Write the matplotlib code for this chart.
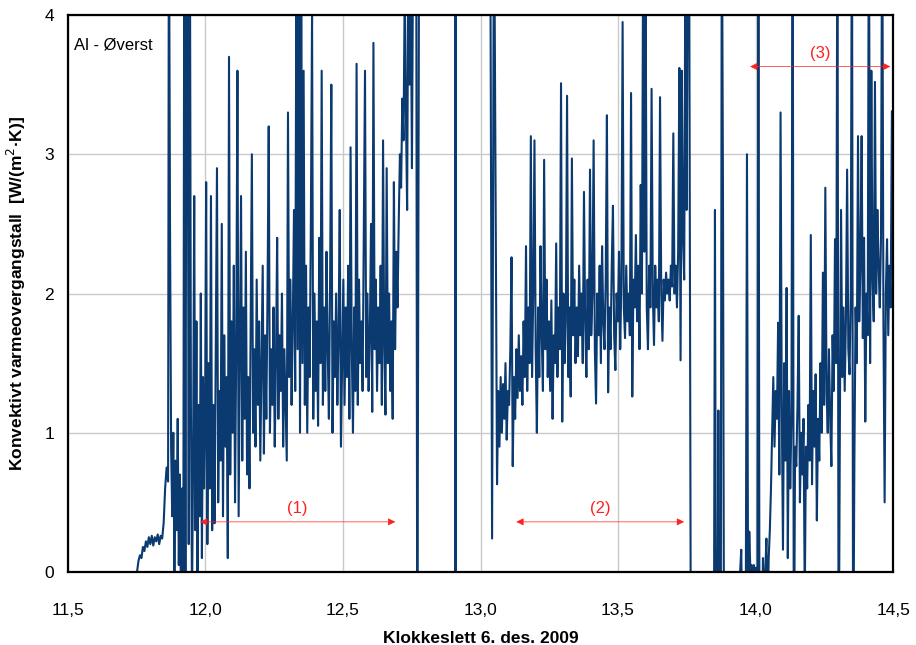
import matplotlib
matplotlib.use("Agg")
import matplotlib.pyplot as plt
import numpy as np

# measured series, split into stretches sampled at an even rate
# (values above 4 or below 0 run off the chart, as in the original)
seg_a_t = (11.751, 11.864)
seg_a_y = [0.0, 0.08, 0.12, 0.1, 0.18, 0.15, 0.22, 0.18, 0.25, 0.2, 0.26,
           0.19, 0.25, 0.22, 0.27, 0.2, 0.26, 0.24, 0.35, 0.6, 0.75, 0.65]

seg_b_t = (11.867, 11.995)
seg_b_y = [5.0, 2.5, 0.9, 0.4, 1.0, 0.0, 0.8, 0.3, 1.1, 0.05, 0.7, -0.3,
           0.6, -0.5, 5.0, -0.5, 5.0, 4.5, 0.2, 5.0, 1.2, -0.2, 0.8, 2.7,
           0.3, 1.8, 0.0, 1.2, 0.4, 2.0, 0.1, 1.4, 0.6]

seg_c_t = (11.998, 12.755)
seg_c_y = [0.9, 2.8, 0.2, 1.5, 0.6, 2.7, 0.3, 1.2, 0.35, 1.6,
           2.9, 0.5, 1.3, 0.8, 2.5, 0.4, 1.7, 0.9, 1.4, 0.1,
           3.7, 0.7, 1.8, 1.0, 2.2, 0.5, 1.6, 3.6, 0.4, 1.5,
           2.7, 0.8, 1.9, 1.1, 2.3, 0.7, 1.4, 0.6, 1.8, 3.0,
           1.0, 1.6, 0.9, 2.1, 1.2, 1.8, 0.8, 1.5, 2.2, 0.85,
           1.7, 1.1, 2.0, 3.2, 1.0, 1.6, 1.2, 1.9, 0.9, 1.5,
           2.4, 1.1, 1.7, 1.3, 2.0, 0.9, 1.6, 1.2, 0.8, 3.3,
           1.4, 2.1, 1.2, 1.8, 2.6, 1.3, 4.5, 1.6, 4.3, 1.0,
           4.2, 1.5, 3.6, 1.2, 2.2, 1.0, 1.9, 1.4, 2.5, 4.0,
           1.1, 2.0, 1.3, 1.8, 1.05, 2.4, 1.5, 3.6, 1.2, 1.9,
           1.3, 2.3, 1.6, 1.1, 2.1, 3.5, 1.0, 1.8, 1.4, 2.0,
           1.2, 1.7, 2.6, 0.9, 1.5, 2.1, 1.2, 1.9, 1.4, 2.2,
           1.1, 3.05, 1.6, 1.0, 1.9, 1.3, 3.65, 1.2, 2.1, 1.5,
           1.8, 1.3, 2.4, 3.6, 1.4, 2.0, 1.3, 1.7, 2.5, 1.15,
           3.8, 1.6, 2.1, 1.3, 1.9, 1.5, 2.2, 1.2, 3.1, 1.6,
           1.13, 2.9, 1.5, 2.0, 1.3, 1.8, 1.1, 2.8, 1.6, 2.3,
           1.9, 2.5, 3.0, 2.76, 3.4, 3.1, 4.2, 3.3, 2.6, 4.5,
           3.5, 4.3, 2.9, 4.6]

gap_t = [12.766, 12.770, 12.777, 12.907, 12.909, 12.911, 13.035, 13.042, 13.049]
gap_y = [5.0, -1.0, 5.0, 5.0, -1.0, 5.0, 5.0, 0.24, 5.0]

seg_d_t = (13.060, 13.758)
seg_d_y = [0.63, 1.3, 0.9, 1.4, 1.0, 1.35, 1.1, 1.5, 0.95, 1.3,
           1.2, 1.6, 2.26, 0.76, 1.4, 1.1, 1.6, 1.25, 1.7, 1.3,
           1.55, 1.2, 1.8, 1.4, 2.34, 1.3, 1.9, 1.5, 3.13, 1.4,
           2.0, 3.1, 1.6, 1.0, 1.9, 1.4, 2.34, 1.7, 1.3, 2.96,
           1.6, 2.1, 1.4, 1.8, 1.3, 1.95, 1.1, 1.7, 1.5, 2.36,
           1.4, 1.9, 1.6, 3.51, 1.08, 2.0, 1.5, 1.8, 3.42, 1.4,
           1.9, 1.26, 2.97, 1.7, 2.1, 1.5, 1.9, 1.55, 2.2, 1.7,
           2.0, 1.5, 2.73, 1.8, 1.4, 2.1, 1.6, 2.89, 1.7, 2.0,
           3.1, 1.6, 1.21, 2.0, 1.7, 2.2, 1.5, 2.34, 1.8, 1.6,
           2.1, 3.28, 1.29, 1.9, 1.6, 2.2, 2.63, 1.7, 1.45, 2.0,
           1.8, 2.3, 1.6, 2.1, 3.95, 1.9, 1.68, 2.2, 1.8, 2.0,
           1.7, 3.44, 1.26, 2.1, 1.9, 2.42, 1.8, 2.2, 1.6, 2.78,
           2.0, 4.5, 2.3, 4.4, 1.9, 1.6, 2.2, 1.9, 3.47, 2.0,
           1.63, 2.2, 1.9, 2.1, 1.8, 3.41, 2.0, 1.66, 2.1, 1.95,
           2.15, 2.0, 2.1, 1.95, 2.2, 2.05, 3.15, 2.0, 2.2, 1.9,
           2.3, 3.62, 1.52, 3.6, 2.4, 2.1, 4.5, 2.6, 4.6, 5.0]

seg_e_t = (13.765, 14.056)
seg_e_y = [-1.0, -1.0, -1.0, -1.0, -1.0, -1.0, -1.0, -1.0, -1.0, -1.0,
           -1.0, -1.0, -1.0, -1.0, -1.0, -1.0, -1.0, -1.0, -1.0, -1.0,
           -1.0, 2.6, -1.0, -1.0, 1.16, -1.0, -1.0, 5.0, 2.76, -1.0,
           -1.0, -1.0, -1.0, -1.0, -1.0, -1.0, -1.0, -1.0, -1.0, -1.0,
           -1.0, -1.0, -0.2, 0.0, 0.16, -0.5, 0.0, -0.3, -0.2, 3.0,
           -0.3, 0.29, 0.0, 0.05, 0.0, 0.05, 0.0, 0.03, -1.0, 5.0,
           -1.0, 0.0, -0.4, 0.1, -0.3, 0.0, 0.24, -0.4, 0.1, 0.3, 0.6]

seg_f_t = (14.060, 14.500)
seg_f_y = [1.0, 1.4, 0.9, 1.3, 1.1, 1.79, 0.7, 3.3, 1.2, 0.16,
           1.5, 0.8, 2.04, 0.1, 1.3, 0.6, 1.1, 5.0, -1.0, 0.9,
           0.76, 1.2, 1.84, 0.5, 1.0, 0.7, 1.1, -0.2, 0.9, 0.6,
           1.2, 0.8, 2.42, 0.63, 1.3, 0.9, 1.42, 0.37, 1.1, 0.8,
           1.5, 1.0, 2.15, 1.2, 2.76, 1.3, 1.0, 1.6, 1.1, 0.76,
           1.7, 1.3, 2.39, 1.5, 5.0, -1.0, 1.03, 2.6, 1.4, 1.9,
           1.3, 1.8, 2.89, 1.6, 1.42, 2.0, 5.0, -1.0, 0.79, 1.9,
           1.5, 3.13, 1.8, 2.2, 3.13, 1.68, 2.4, 1.08, 2.0, 1.7,
           5.0, 1.5, 3.6, 2.1, 1.8, 3.52, 2.0, 2.6, 2.21, 1.9,
           2.4, 5.0, 1.8, 0.5, 2.0, 2.39, 1.7, 2.2, 1.9, 3.31, 2.0]

x_ticks = [11.5, 12.0, 12.5, 13.0, 13.5, 14.0, 14.5]
x_tick_labels = ["11,5", "12,0", "12,5", "13,0", "13,5", "14,0", "14,5"]
y_ticks = [0, 1, 2, 3, 4]

# marked periods (start, end, label)
periods = [(11.98, 12.69, "(1)"), (13.13, 13.74, "(2)"), (13.98, 14.49, "(3)")]
period_y = [0.36, 0.36, 3.63]

t_parts, y_parts = [], []
for (t0, t1), vals in [(seg_a_t, seg_a_y), (seg_b_t, seg_b_y), (seg_c_t, seg_c_y)]:
    t_parts.append(np.linspace(t0, t1, len(vals)))
    y_parts.append(np.array(vals))
t_parts.append(np.array(gap_t))
y_parts.append(np.array(gap_y))
for (t0, t1), vals in [(seg_d_t, seg_d_y), (seg_e_t, seg_e_y), (seg_f_t, seg_f_y)]:
    t_parts.append(np.linspace(t0, t1, len(vals)))
    y_parts.append(np.array(vals))
t = np.concatenate(t_parts)
h = np.concatenate(y_parts)

plt.rcParams["font.family"] = ["Liberation Sans", "DejaVu Sans"]

fig = plt.figure(figsize=(9.16, 6.45), dpi=100)
ax = fig.add_axes([0.0742, 0.1132, 0.9008, 0.8635])

ax.plot(t, h, color="#0b3a70", lw=1.5, zorder=3)

ax.set_xlim(11.5, 14.5)
ax.set_ylim(0, 4)
ax.set_xticks(x_ticks)
ax.set_xticklabels(x_tick_labels, fontsize=12.5)
ax.set_yticks(y_ticks)
ax.tick_params(length=0, labelsize=12.5)
ax.tick_params(axis="x", pad=22)
ax.tick_params(axis="y", pad=10)
ax.grid(True, color="#c9c9c9", lw=1.0, zorder=0)
for s in ax.spines.values():
    s.set_linewidth(1.6)
    s.set_zorder(5)

for (x0, x1, lab), yy in zip(periods, period_y):
    ax.annotate("", xy=(x0, yy), xytext=(x1, yy),
                arrowprops=dict(arrowstyle="<|-|>", color="#ff2020", lw=0.5,
                                mutation_scale=11, shrinkA=0, shrinkB=0),
                zorder=6)
    ax.text((x0 + x1) / 2, yy + 0.04, lab, color="#ff2020", fontsize=12,
            ha="center", va="bottom", zorder=6)

ax.text(0.007, 0.96, "Al - Øverst", transform=ax.transAxes, fontsize=12,
        ha="left", va="top", zorder=6,
        bbox=dict(facecolor="white", edgecolor="none", pad=0.5))

ax.set_xlabel("Klokkeslett 6. des. 2009", fontsize=12.5, fontweight="bold",
              labelpad=10)
ax.set_ylabel("Konvektivt varmeovergangstall  [W/(m$^{2}$·K)]", fontsize=12.5,
              fontweight="bold", labelpad=12)

fig.savefig("out.png", dpi=100)
